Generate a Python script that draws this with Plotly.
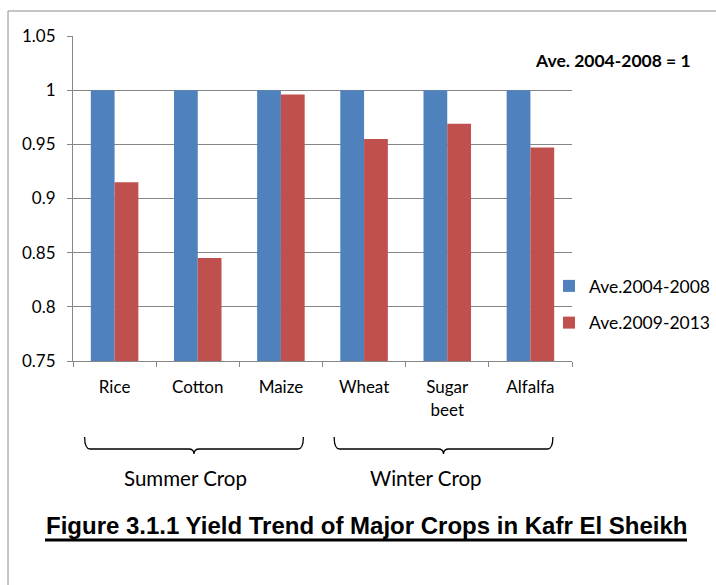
import plotly.graph_objects as go

# Yield index of major crops, Kafr El Sheikh (Ave. 2004-2008 = 1)
crops = ["Rice", "Cotton", "Maize", "Wheat", "Sugar<br>beet", "Alfalfa"]
ave_2004_2008 = [1.0, 1.0, 1.0, 1.0, 1.0, 1.0]
ave_2009_2013 = [0.915, 0.845, 0.996, 0.955, 0.969, 0.947]
series_names = ["Ave.2004-2008", "Ave.2009-2013"]
y_ticks = [0.75, 0.8, 0.85, 0.9, 0.95, 1.0, 1.05]
y_tick_text = ["0.75", "0.8", "0.85", "0.9", "0.95", "1", "1.05"]
seasons = ["Summer Crop", "Winter Crop"]
season_members = [(0, 2), (3, 5)]  # first / last crop index in each season

W, H = 716, 585
L, R, T, B = 73, 144, 36, 224
plot_w, plot_h = W - L - R, H - T - B

FONT = "Lato, Calibri, Carlito, sans-serif"
AXIS_GREY = "#868686"


def px_x(px):
    return (px - L) / plot_w


def px_y(py):
    return (H - B - py) / plot_h


def cat_x(c):
    return (c + 0.5) / len(crops)


fig = go.Figure()
fig.add_trace(go.Bar(x=crops, y=ave_2004_2008, name=series_names[0],
                     marker=dict(color="#4F81BD", line=dict(width=0)),
                     legendgroup="a"))
fig.add_trace(go.Bar(x=crops, y=ave_2009_2013, name=series_names[1],
                     marker=dict(color="#C0504D", line=dict(width=0)),
                     legendgroup="b"))

shapes = []
annotations = []

# Season braces under the category labels, caption a little left of the tip
y_top, y_mid, y_tip = px_y(437), px_y(449), px_y(454)
r = 0.011
label_shift = [-9 / plot_w, -18 / plot_w]
for name, (first, last), dx in zip(seasons, season_members, label_shift):
    x0, x1 = cat_x(first - 0.36), cat_x(last + 0.27)
    xm = (x0 + x1) / 2
    path = (f"M {x0},{y_top} Q {x0},{y_mid} {x0 + r},{y_mid} "
            f"L {xm - r},{y_mid} Q {xm},{y_mid} {xm},{y_tip} "
            f"Q {xm},{y_mid} {xm + r},{y_mid} "
            f"L {x1 - r},{y_mid} Q {x1},{y_mid} {x1},{y_top}")
    shapes.append(dict(type="path", path=path, xref="paper", yref="paper",
                       line=dict(color="#000000", width=1.3)))
    annotations.append(dict(text=name, x=xm + dx, y=px_y(478), xref="paper",
                            yref="paper", xanchor="center", yanchor="middle",
                            showarrow=False,
                            font=dict(family=FONT, size=20.5, color="#000000")))

# Outer frame (top and left edges)
shapes.append(dict(type="line", xref="paper", yref="paper",
                   x0=px_x(8), x1=px_x(716), y0=px_y(11), y1=px_y(11),
                   line=dict(color="#8c8c8c", width=1)))
shapes.append(dict(type="line", xref="paper", yref="paper",
                   x0=px_x(8), x1=px_x(8), y0=px_y(11), y1=px_y(585),
                   line=dict(color="#8c8c8c", width=1)))

# Figure caption with a heavy underline
annotations.append(dict(
    text="<b>Figure 3.1.1 Yield Trend of Major Crops in Kafr El Sheikh</b>",
    x=px_x(366), y=px_y(525), xref="paper", yref="paper",
    xanchor="center", yanchor="middle", showarrow=False,
    font=dict(family="Liberation Sans Narrow, Arial Narrow, Liberation Sans, Arial, sans-serif",
              size=24, color="#000000")))
shapes.append(dict(type="line", xref="paper", yref="paper",
                   x0=px_x(45), x1=px_x(687), y0=px_y(540), y1=px_y(540),
                   line=dict(color="#000000", width=3)))

# Base-year note
annotations.append(dict(text="<b>Ave. 2004-2008 = 1</b>", x=px_x(613), y=px_y(60),
                        xref="paper", yref="paper", xanchor="center",
                        yanchor="middle", showarrow=False,
                        font=dict(family=FONT, size=17.5, color="#000000")))

fig.update_layout(
    width=W, height=H,
    margin=dict(l=L, r=R, t=T, b=B, pad=0, autoexpand=False),
    paper_bgcolor="white", plot_bgcolor="white",
    barmode="group", bargap=1.5 / 3.5, bargroupgap=0,
    font=dict(family=FONT, size=17, color="#000000"),
    showlegend=True,
    legend=dict(x=px_x(549), y=px_y(268), xanchor="left", yanchor="top",
                traceorder="grouped", tracegroupgap=11,
                font=dict(family=FONT, size=17.5, color="#000000"),
                bgcolor="rgba(0,0,0,0)"),
    xaxis=dict(type="category", range=[-0.5, 5.5], showline=True,
               linecolor=AXIS_GREY, linewidth=1, ticks="outside",
               tickson="boundaries", ticklen=5, tickcolor=AXIS_GREY,
               showgrid=False, ticklabelstandoff=11,
               tickfont=dict(family=FONT, size=17, color="#000000")),
    yaxis=dict(range=[0.75, 1.05], tickvals=y_ticks, ticktext=y_tick_text,
               showline=True, linecolor=AXIS_GREY, linewidth=1,
               ticks="outside", ticklen=5, tickcolor=AXIS_GREY,
               showgrid=True, gridcolor=AXIS_GREY, gridwidth=1,
               zeroline=False, ticklabelstandoff=8,
               tickfont=dict(family=FONT, size=17, color="#000000")),
    shapes=shapes,
    annotations=annotations,
)

fig.write_html("out.html")
